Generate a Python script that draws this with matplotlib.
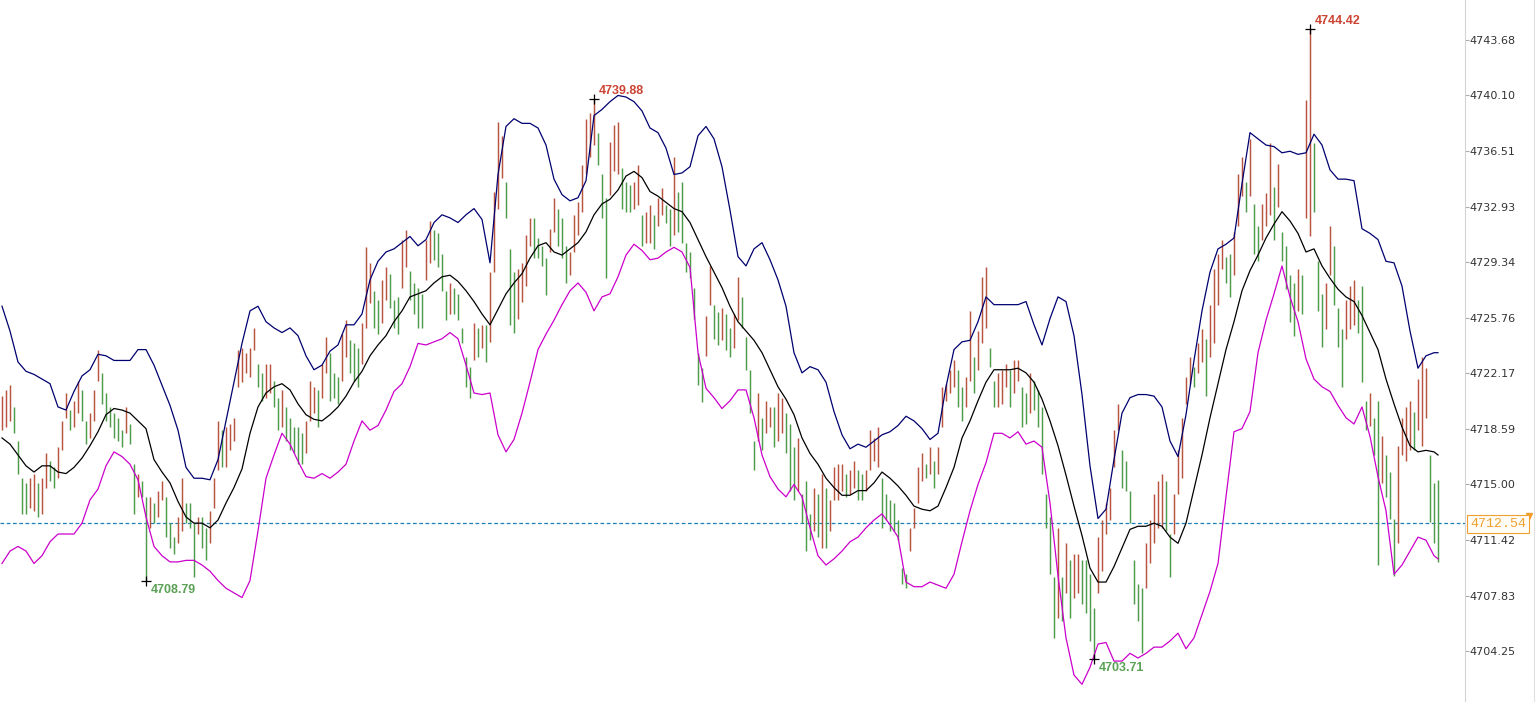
import numpy as np
import matplotlib
matplotlib.use("Agg")
import matplotlib.pyplot as plt
from matplotlib.lines import Line2D

# ---- bar data (one bar per period) ----
highs = [
    4720.7, 4721.1, 4721.4, 4720.0, 4717.8, 4715.4, 4715.1, 4715.4, 4715.7, 4715.1,
    4715.4, 4717.0, 4716.5, 4716.1, 4717.4, 4719.1, 4720.9, 4719.8, 4720.4, 4721.7,
    4721.1, 4719.1, 4719.6, 4721.1, 4723.7, 4722.2, 4720.9, 4720.0, 4719.6, 4719.3,
    4718.5, 4720.0, 4718.9, 4716.3, 4715.7, 4715.2, 4714.2, 4714.2, 4713.8, 4714.6,
    4715.2, 4714.2, 4712.5, 4711.6, 4712.9, 4715.4, 4713.8, 4713.8, 4712.5, 4712.9,
    4712.9, 4712.2, 4713.3, 4715.4, 4719.1, 4718.5, 4718.7, 4718.9, 4719.3, 4723.7,
    4723.8, 4723.5, 4723.8, 4725.1, 4722.8, 4722.2, 4722.8, 4722.8, 4721.7, 4720.6,
    4721.1, 4720.0, 4719.3, 4718.7, 4718.7, 4718.3, 4719.1, 4721.7, 4721.3, 4721.1,
    4722.8, 4724.5, 4723.5, 4722.2, 4721.9, 4724.7, 4725.6, 4724.3, 4724.1, 4723.8,
    4725.4, 4730.3, 4729.3, 4727.5, 4726.9, 4728.2, 4729.0, 4728.6, 4726.9, 4727.1,
    4730.8, 4731.4, 4728.8, 4728.0, 4727.7, 4727.3, 4730.8, 4732.0, 4731.4, 4731.2,
    4729.9, 4727.5, 4728.0, 4727.7, 4727.3, 4725.1, 4723.2, 4722.6, 4725.4, 4725.1,
    4725.3, 4725.3, 4728.7, 4733.9, 4738.4, 4737.5, 4734.5, 4730.2, 4728.7, 4728.9,
    4729.3, 4731.1, 4732.2, 4732.2, 4730.9, 4730.4, 4729.6, 4731.5, 4733.5, 4732.8,
    4732.2, 4730.4, 4730.0, 4732.4, 4733.2, 4735.6, 4738.6, 4739.0, 4739.88, 4737.7,
    4735.0, 4733.5, 4737.1, 4738.2, 4738.4, 4735.4, 4734.5, 4734.3, 4734.5, 4735.6,
    4732.4, 4732.6, 4733.0, 4732.4, 4733.5, 4734.1, 4733.0, 4732.8, 4736.1, 4733.9,
    4734.5, 4730.6, 4730.0, 4727.7, 4723.5, 4722.5, 4725.9, 4729.1, 4726.6, 4726.1,
    4726.4, 4726.0, 4725.1, 4726.0, 4728.4, 4727.1, 4724.5, 4722.4, 4717.8, 4720.9,
    4719.3, 4720.4, 4720.0, 4720.0, 4720.9, 4720.6, 4719.6, 4718.9, 4717.4, 4718.0,
    4714.4, 4715.2, 4713.1, 4714.8, 4714.4, 4715.7, 4714.8, 4714.0, 4716.1, 4716.3,
    4716.3, 4715.7, 4715.9, 4716.5, 4715.9, 4715.7, 4715.9, 4718.5, 4718.0, 4718.7,
    4715.4, 4714.4, 4714.0, 4713.8, 4712.7, 4709.6, 4709.2, 4712.2, 4713.5, 4716.1,
    4717.0, 4716.3, 4717.4, 4716.5, 4717.4, 4721.3, 4721.5, 4722.4, 4723.0, 4722.4,
    4721.3, 4721.9, 4726.2, 4723.2, 4724.9, 4728.4, 4729.0, 4723.8, 4721.7, 4722.2,
    4722.4, 4722.8, 4722.4, 4723.0, 4723.0, 4721.3, 4720.9, 4722.2, 4721.7, 4721.1,
    4720.0, 4714.4, 4712.9, 4709.0, 4712.2, 4709.0, 4711.2, 4710.1, 4710.5, 4710.5,
    4710.1, 4710.1, 4709.2, 4707.0, 4711.6, 4712.7, 4713.8, 4714.8, 4718.5, 4720.2,
    4717.2, 4716.5, 4714.6, 4710.1, 4708.6, 4708.3, 4711.2, 4712.7, 4714.4, 4715.2,
    4715.7, 4715.2, 4711.8, 4714.4, 4717.2, 4719.3, 4721.9, 4723.2, 4722.6, 4724.1,
    4725.0, 4724.4, 4726.6, 4728.9, 4729.9, 4730.8, 4729.7, 4729.9, 4731.3, 4735.0,
    4736.1, 4734.5, 4737.3, 4733.1, 4731.7, 4733.1, 4733.8, 4737.0, 4734.2, 4735.7,
    4731.3, 4730.4, 4728.5, 4728.0, 4728.9, 4728.5, 4739.8, 4744.42, 4737.0, 4729.4,
    4727.3, 4728.0, 4731.7, 4730.4, 4726.4, 4725.0, 4726.9, 4727.8, 4728.2, 4726.9,
    4727.8, 4720.4, 4720.9, 4719.3, 4720.4, 4718.1, 4716.9, 4715.8, 4712.8, 4717.5,
    4719.3, 4720.0, 4720.4, 4719.7, 4721.8, 4723.2, 4722.5, 4716.9, 4715.1, 4715.3,
]

lows = [
    4718.5, 4718.7, 4719.1, 4718.3, 4715.7, 4713.1, 4713.1, 4713.5, 4713.3, 4712.9,
    4713.1, 4714.8, 4715.2, 4714.8, 4715.4, 4717.2, 4719.3, 4718.5, 4718.7, 4719.6,
    4719.1, 4717.6, 4718.0, 4719.1, 4721.7, 4720.2, 4719.1, 4718.7, 4718.0, 4717.8,
    4717.4, 4718.3, 4717.6, 4713.1, 4714.2, 4714.2, 4708.79, 4712.2, 4712.5, 4712.9,
    4714.0, 4711.6, 4710.9, 4710.5, 4711.2, 4712.0, 4712.5, 4712.2, 4709.0, 4711.8,
    4710.9, 4710.1, 4711.2, 4713.5, 4715.9, 4716.1, 4716.1, 4717.2, 4717.8, 4721.3,
    4721.6, 4722.2, 4721.9, 4723.7, 4721.3, 4720.4, 4720.6, 4720.9, 4720.0, 4718.5,
    4718.7, 4717.8, 4717.2, 4717.0, 4716.3, 4716.3, 4717.0, 4719.1, 4719.6, 4718.7,
    4720.6, 4722.2, 4720.4, 4720.6, 4720.2, 4721.7, 4723.2, 4722.2, 4721.7, 4721.3,
    4722.8, 4725.1, 4726.7, 4725.1, 4724.7, 4725.4, 4726.9, 4726.4, 4725.1, 4724.7,
    4727.7, 4729.0, 4726.9, 4726.0, 4725.1, 4725.1, 4728.2, 4729.3, 4729.5, 4729.0,
    4727.5, 4725.6, 4726.0, 4726.0, 4725.6, 4724.1, 4721.3, 4720.6, 4723.0, 4723.2,
    4723.8, 4722.9, 4724.2, 4728.7, 4732.8, 4734.8, 4732.2, 4725.3, 4724.8, 4725.7,
    4726.8, 4727.8, 4730.4, 4729.6, 4729.6, 4729.1, 4727.2, 4730.0, 4731.3, 4730.4,
    4729.6, 4728.0, 4728.5, 4730.0, 4731.1, 4732.6, 4735.0, 4736.1, 4736.9, 4735.6,
    4732.2, 4728.3, 4733.7, 4735.2, 4735.0, 4732.8, 4732.6, 4732.6, 4732.8, 4733.0,
    4730.4, 4730.6, 4730.6, 4730.2, 4731.7, 4732.4, 4731.9, 4730.4, 4731.1, 4731.3,
    4730.6, 4728.7, 4728.3, 4725.7, 4721.4, 4720.3, 4723.3, 4726.6, 4724.4, 4724.0,
    4724.3, 4723.7, 4723.2, 4723.8, 4725.6, 4725.1, 4722.4, 4719.6, 4715.9, 4717.8,
    4717.2, 4718.3, 4718.7, 4717.4, 4717.8, 4718.3, 4717.0, 4714.6, 4714.0, 4714.6,
    4712.5, 4710.7, 4711.4, 4712.0, 4711.6, 4710.9, 4710.9, 4712.0, 4714.0, 4714.0,
    4714.6, 4714.2, 4714.4, 4714.8, 4714.0, 4714.0, 4714.6, 4715.9, 4716.5, 4716.1,
    4712.2, 4712.7, 4712.0, 4712.0, 4711.4, 4708.6, 4708.3, 4710.7, 4712.2, 4713.8,
    4715.2, 4715.4, 4715.7, 4714.8, 4715.7, 4718.7, 4720.4, 4720.9, 4721.3, 4720.0,
    4719.1, 4720.0, 4721.7, 4720.9, 4722.4, 4724.1, 4725.1, 4722.6, 4720.0, 4720.0,
    4720.2, 4721.3, 4720.0, 4720.9, 4721.7, 4718.7, 4718.9, 4719.6, 4719.8, 4718.7,
    4715.7, 4712.2, 4709.2, 4705.1, 4706.4, 4706.2, 4708.0, 4706.4, 4707.7, 4708.0,
    4707.3, 4706.7, 4704.9, 4703.71, 4708.0, 4709.4, 4711.8, 4712.7, 4716.1, 4718.5,
    4714.8, 4714.6, 4712.5, 4707.3, 4706.2, 4704.1, 4708.3, 4709.9, 4711.2, 4712.2,
    4712.2, 4712.0, 4709.0, 4711.8, 4714.4, 4715.4, 4720.2, 4721.5, 4721.3, 4722.2,
    4722.9, 4720.7, 4723.2, 4724.1, 4726.6, 4728.9, 4728.0, 4727.1, 4728.5, 4731.7,
    4733.6, 4732.6, 4733.6, 4729.9, 4729.4, 4730.8, 4731.7, 4732.4, 4730.8, 4732.9,
    4729.4, 4727.6, 4725.5, 4724.6, 4726.2, 4726.0, 4732.2, 4731.0, 4732.6, 4726.2,
    4723.9, 4725.0, 4728.5, 4726.6, 4723.9, 4721.3, 4724.4, 4725.0, 4725.3, 4724.8,
    4721.6, 4718.5, 4718.8, 4716.9, 4709.8, 4715.1, 4714.2, 4712.8, 4709.1, 4711.2,
    4716.9, 4716.5, 4717.2, 4717.2, 4718.5, 4717.5, 4719.3, 4712.6, 4711.2, 4710.0,
]

# ---- bollinger bands, read every second bar ----
upper_band = [
    4726.5, 4724.9, 4722.9, 4722.3, 4722.1, 4721.8, 4721.5, 4720.0, 4719.8, 4721.0,
    4722.0, 4722.4, 4723.4, 4723.3, 4723.0, 4723.0, 4723.0, 4723.7, 4723.7, 4722.7,
    4721.4, 4720.1, 4718.5, 4716.1, 4715.4, 4715.4, 4715.3, 4716.6, 4719.1, 4721.6,
    4724.1, 4726.2, 4726.5, 4725.5, 4725.1, 4724.8, 4725.1, 4724.6, 4723.3, 4722.4,
    4722.7, 4723.6, 4724.0, 4725.3, 4725.3, 4726.0, 4728.2, 4729.4, 4730.0, 4730.2,
    4730.6, 4731.0, 4730.4, 4730.8, 4731.9, 4732.4, 4732.2, 4731.9, 4732.4, 4732.8,
    4732.1, 4729.3, 4735.0, 4738.1, 4738.6, 4738.3, 4738.3, 4738.0, 4736.9, 4734.7,
    4733.7, 4733.3, 4733.5, 4734.6, 4738.8, 4739.2, 4739.7, 4740.1, 4740.0, 4739.7,
    4739.1, 4738.0, 4737.7, 4736.7, 4735.0, 4735.1, 4735.5, 4737.5, 4738.1, 4737.3,
    4735.5, 4732.7, 4729.7, 4729.1, 4730.2, 4730.6, 4729.5, 4728.2, 4726.5, 4723.5,
    4722.2, 4722.6, 4722.4, 4721.6, 4719.7, 4718.2, 4717.3, 4717.6, 4717.4, 4717.8,
    4718.2, 4718.4, 4718.8, 4719.4, 4719.1, 4718.6, 4717.9, 4718.3, 4721.3, 4723.7,
    4724.2, 4724.3, 4725.5, 4727.1, 4726.6, 4726.6, 4726.6, 4726.6, 4726.8, 4725.3,
    4724.0, 4725.7, 4727.1, 4726.8, 4724.6, 4720.8, 4716.2, 4712.8, 4713.4, 4716.6,
    4719.6, 4720.6, 4720.8, 4720.8, 4720.7, 4720.0, 4717.8, 4716.8, 4719.5, 4723.0,
    4726.2, 4728.7, 4730.2, 4730.5, 4730.9, 4734.4, 4737.7, 4737.3, 4736.9, 4736.8,
    4736.4, 4736.5, 4736.3, 4736.4, 4737.6, 4736.9, 4735.3, 4734.7, 4734.7, 4734.6,
    4731.5, 4731.2, 4730.8, 4729.4, 4729.3, 4727.8, 4724.9, 4722.5, 4723.3, 4723.5,
    4723.5,
]

mid_band = [
    4718.0, 4717.6, 4716.9, 4716.2, 4715.8, 4716.2, 4716.2, 4715.8, 4715.7, 4716.1,
    4716.7, 4717.5, 4718.4, 4719.5, 4719.9, 4719.8, 4719.6, 4719.1, 4718.6, 4716.6,
    4715.8, 4715.1, 4713.9, 4712.9, 4712.5, 4712.5, 4712.2, 4712.7, 4713.8, 4714.8,
    4716.0, 4718.3, 4720.0, 4720.9, 4721.3, 4721.5, 4721.1, 4720.2, 4719.5, 4719.2,
    4719.1, 4719.5, 4720.0, 4720.7, 4721.6, 4722.3, 4723.3, 4724.0, 4724.6, 4725.5,
    4726.2, 4727.1, 4727.3, 4727.5, 4728.0, 4728.4, 4728.5, 4728.1, 4727.5, 4726.8,
    4726.0, 4725.3, 4726.3, 4727.3, 4728.0, 4728.6, 4729.6, 4730.4, 4730.6, 4730.0,
    4729.8, 4730.2, 4730.6, 4731.3, 4732.4, 4733.1, 4733.4, 4734.0, 4734.9, 4735.2,
    4734.8, 4733.9, 4733.6, 4733.2, 4732.8, 4732.6, 4731.9, 4730.8, 4729.7, 4728.7,
    4727.7, 4726.5, 4725.5, 4724.9, 4724.3, 4723.5, 4722.4, 4721.3, 4720.5, 4719.5,
    4718.0, 4717.0, 4716.3, 4715.4, 4714.8, 4714.3, 4714.3, 4714.6, 4714.6, 4715.1,
    4715.8, 4715.4, 4714.9, 4714.3, 4713.6, 4713.4, 4713.3, 4713.6, 4714.8, 4716.1,
    4718.0, 4719.1, 4720.4, 4721.6, 4722.4, 4722.4, 4722.4, 4722.5, 4722.2, 4721.6,
    4720.5, 4719.1, 4717.5, 4715.6, 4713.6, 4711.7, 4709.6, 4708.7, 4708.7, 4709.7,
    4710.9, 4712.1, 4712.3, 4712.3, 4712.5, 4712.3, 4711.6, 4711.2, 4712.5, 4714.7,
    4716.9, 4719.3, 4721.5, 4723.7, 4725.5, 4727.5, 4728.8, 4729.8, 4730.9, 4731.8,
    4732.6, 4732.0, 4731.2, 4730.0, 4730.2, 4729.1, 4728.3, 4727.6, 4727.1, 4726.8,
    4725.9, 4724.8, 4723.7, 4721.8, 4720.2, 4718.7, 4717.5, 4717.1, 4717.2, 4717.1,
    4716.9,
]

lower_band = [
    4709.9, 4710.7, 4711.0, 4710.7, 4709.9, 4710.4, 4711.3, 4711.8, 4711.8, 4711.8,
    4712.5, 4714.0, 4714.7, 4716.2, 4717.1, 4716.8, 4716.3, 4715.3, 4712.9, 4711.0,
    4710.4, 4710.0, 4710.0, 4710.1, 4710.1, 4709.8, 4709.4, 4708.8, 4708.3, 4708.0,
    4707.7, 4708.8, 4712.0, 4715.4, 4716.9, 4718.3, 4717.6, 4716.5, 4715.5, 4715.4,
    4715.7, 4715.4, 4715.8, 4716.3, 4717.8, 4719.1, 4718.5, 4718.8, 4719.8, 4721.0,
    4721.5, 4722.6, 4724.1, 4724.0, 4724.2, 4724.4, 4724.8, 4724.4, 4722.7, 4720.9,
    4720.8, 4720.9, 4718.2, 4717.1, 4717.9, 4719.6, 4721.6, 4723.7, 4724.7, 4725.6,
    4726.6, 4727.5, 4728.0, 4727.4, 4726.2, 4727.1, 4727.3, 4728.4, 4729.8, 4730.5,
    4730.1, 4729.5, 4729.6, 4730.0, 4730.3, 4730.0, 4729.0, 4723.5, 4721.2, 4720.6,
    4719.9, 4720.4, 4721.1, 4721.1, 4719.3, 4716.9, 4715.5, 4714.7, 4714.2, 4715.0,
    4714.2, 4712.2, 4710.4, 4709.8, 4710.2, 4710.7, 4711.3, 4711.6, 4712.2, 4712.7,
    4713.1, 4712.4, 4711.6, 4708.7, 4708.4, 4708.4, 4708.7, 4708.5, 4708.3, 4709.2,
    4711.3, 4713.3, 4715.0, 4716.4, 4718.3, 4718.3, 4718.0, 4718.4, 4717.6, 4717.8,
    4717.4, 4713.8, 4709.1, 4705.1, 4702.7, 4702.1, 4703.2, 4704.7, 4704.8, 4703.6,
    4703.6, 4704.1, 4703.8, 4704.1, 4704.5, 4704.5, 4704.9, 4705.4, 4704.4, 4705.1,
    4706.6, 4708.1, 4709.9, 4714.2, 4718.4, 4718.6, 4719.7, 4723.5, 4725.6, 4727.3,
    4729.1, 4727.1, 4725.5, 4723.1, 4721.8, 4721.3, 4721.0, 4720.1, 4719.3, 4718.9,
    4720.0, 4718.1, 4715.5, 4713.3, 4709.2, 4709.8, 4710.7, 4711.6, 4711.4, 4710.4,
    4710.2,
]

last_price = 4712.54
peak_labels = [4739.88, 4744.42]
trough_labels = [4708.79, 4703.71]
tick_values = [4704.25, 4707.83, 4711.42, 4715.00, 4718.59, 4722.17,
               4725.76, 4729.34, 4732.93, 4736.51, 4740.10, 4743.68]
tick_labels = ['4704.25', '4707.83', '4711.42', '4715.00', '4718.59', '4722.17',
               '4725.76', '4729.34', '4732.93', '4736.51', '4740.10', '4743.68']

RED = '#b9543f'
GREEN = '#4f9c4a'

n = len(highs)
x = np.arange(n)
band_x = np.r_[np.arange(0, n - 1, 2), n - 1]

mids = (np.array(highs) + np.array(lows)) / 2
cols = [RED] + [RED if mids[i] >= mids[i - 1] else GREEN for i in range(1, n)]

W, H = 1537, 702
fig = plt.figure(figsize=(W / 100, H / 100), dpi=100)
ax = fig.add_axes([0, 0, 1465 / W, 1])

ax.vlines(x, lows, highs, colors=cols, linewidth=1.05, zorder=2)

ax.plot(band_x, upper_band, color='#000070', lw=0.9, zorder=3)
ax.plot(band_x, mid_band, color='#000000', lw=0.9, zorder=3)
ax.plot(band_x, lower_band, color='#cc00cc', lw=0.9, zorder=3)

ax.axhline(last_price, color='#1f7fb8', lw=0.9, ls=(0, (3, 2)), zorder=1)

# extreme labels
for v in peak_labels:
    i = highs.index(v)
    ax.plot(i, v, marker='+', color='black', ms=7, mew=0.9, zorder=4)
    ax.annotate(f'{v:.2f}', (i, v), xytext=(5, 8), textcoords='offset pixels',
                ha='left', va='center', color='#cc4433', fontsize=9,
                fontweight='bold', family='Liberation Sans')
for v in trough_labels:
    i = lows.index(v)
    ax.plot(i, v, marker='+', color='black', ms=7, mew=0.9, zorder=4)
    ax.annotate(f'{v:.2f}', (i, v), xytext=(5, -9), textcoords='offset pixels',
                ha='left', va='center', color='#5aa055', fontsize=9,
                fontweight='bold', family='Liberation Sans')

ax.set_xlim(-0.5, 365.75)
ax.set_ylim(4700.96, 4746.26)

ax.yaxis.tick_right()
ax.set_yticks(tick_values)
ax.set_yticklabels(tick_labels)
ax.tick_params(axis='y', direction='out', length=3, pad=0, colors='#aaaaaa',
               labelcolor='#333333', labelsize=8)
ax.set_xticks([])
for s in ['top', 'left', 'bottom']:
    ax.spines[s].set_visible(False)
ax.spines['right'].set_color('#d4d4d4')

# last price tag on the axis
fig.text(1470 / W, 1 - 524 / H, f'{last_price:.2f}', ha='left', va='center',
         family='Liberation Mono', fontsize=9.5, color='#f0a030', zorder=10,
         bbox=dict(boxstyle='square,pad=0.2', fc='#fffdf5', ec='#f0a030', lw=0.8))
fig.add_artist(Line2D([1529 / W], [1 - 516 / H], marker='v', color='#f0a030',
                      ms=4, ls='none'))
fig.add_artist(Line2D([1534 / W, 1534 / W], [0, 1], color='#e0e0e0', lw=0.8))

fig.savefig('out.png', dpi=100)
